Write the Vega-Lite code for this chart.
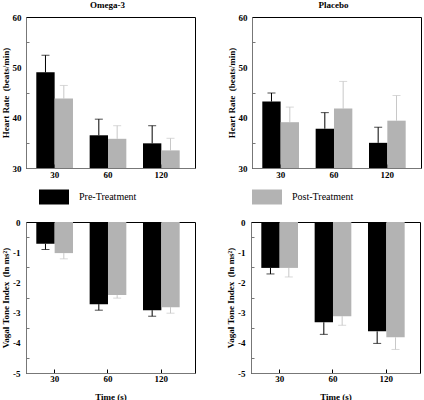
{
  "$schema": "https://vega.github.io/schema/vega-lite/v6.json",
  "padding": {"left": 0, "top": 0, "right": 0, "bottom": 0},
  "datasets": {
    "hr": [
      {"group": "Omega-3", "time": "30", "treatment": "Pre-Treatment", "value": 49.0, "err": 52.4},
      {"group": "Omega-3", "time": "30", "treatment": "Post-Treatment", "value": 43.8, "err": 46.4},
      {"group": "Omega-3", "time": "60", "treatment": "Pre-Treatment", "value": 36.5, "err": 39.7},
      {"group": "Omega-3", "time": "60", "treatment": "Post-Treatment", "value": 35.8, "err": 38.4},
      {"group": "Omega-3", "time": "120", "treatment": "Pre-Treatment", "value": 34.9, "err": 38.4},
      {"group": "Omega-3", "time": "120", "treatment": "Post-Treatment", "value": 33.5, "err": 35.9},
      {"group": "Placebo", "time": "30", "treatment": "Pre-Treatment", "value": 43.2, "err": 44.9},
      {"group": "Placebo", "time": "30", "treatment": "Post-Treatment", "value": 39.1, "err": 42.1},
      {"group": "Placebo", "time": "60", "treatment": "Pre-Treatment", "value": 37.8, "err": 41.0},
      {"group": "Placebo", "time": "60", "treatment": "Post-Treatment", "value": 41.8, "err": 47.2},
      {"group": "Placebo", "time": "120", "treatment": "Pre-Treatment", "value": 35.0, "err": 38.1},
      {"group": "Placebo", "time": "120", "treatment": "Post-Treatment", "value": 39.4, "err": 44.4}
    ],
    "vti": [
      {"group": "Omega-3", "time": "30", "treatment": "Pre-Treatment", "value": -0.72, "err": -0.91},
      {"group": "Omega-3", "time": "30", "treatment": "Post-Treatment", "value": -1.03, "err": -1.22},
      {"group": "Omega-3", "time": "60", "treatment": "Pre-Treatment", "value": -2.72, "err": -2.92},
      {"group": "Omega-3", "time": "60", "treatment": "Post-Treatment", "value": -2.42, "err": -2.52},
      {"group": "Omega-3", "time": "120", "treatment": "Pre-Treatment", "value": -2.92, "err": -3.12},
      {"group": "Omega-3", "time": "120", "treatment": "Post-Treatment", "value": -2.82, "err": -3.02},
      {"group": "Placebo", "time": "30", "treatment": "Pre-Treatment", "value": -1.52, "err": -1.72},
      {"group": "Placebo", "time": "30", "treatment": "Post-Treatment", "value": -1.52, "err": -1.82},
      {"group": "Placebo", "time": "60", "treatment": "Pre-Treatment", "value": -3.32, "err": -3.72},
      {"group": "Placebo", "time": "60", "treatment": "Post-Treatment", "value": -3.12, "err": -3.42},
      {"group": "Placebo", "time": "120", "treatment": "Pre-Treatment", "value": -3.62, "err": -4.02},
      {"group": "Placebo", "time": "120", "treatment": "Post-Treatment", "value": -3.82, "err": -4.22}
    ]
  },
  "vconcat": [
    {
      "hconcat": [
        {
          "width": 169, "height": 151,
          "title": {"text": "Omega-3", "offset": 3, "dx": -3},
          "data": {"name": "hr"},
          "transform": [{"filter": "datum.group === 'Omega-3'"}],
          "encoding": {
            "x": {"field": "time", "type": "nominal", "sort": ["30", "60", "120"],
                  "scale": {"paddingInner": 0, "paddingOuter": 0.084, "align": 0.22},
                  "axis": {"title": null, "labelAngle": 0, "tickSize": -4, "tickColor": "black", "labelPadding": 6}},
            "xOffset": {"field": "treatment", "sort": ["Pre-Treatment", "Post-Treatment"],
                  "scale": {"paddingInner": 0, "paddingOuter": 0.4545}}
          },
          "layer": [
            {"mark": {"type": "rule", "strokeWidth": 1},
             "encoding": {
               "y": {"field": "value", "type": "quantitative", "scale": {"domain": [30, 60], "nice": false, "zero": false},
                     "axis": {"title": "Heart Rate \u00a0(beats/min)", "orient": "left", "values": [30, 40, 50, 60], "labelOverlap": false,
                              "ticks": false, "labelPadding": 5, "titlePadding": 2}},
               "y2": {"field": "err"},
               "stroke": {"field": "treatment", "type": "nominal", "scale": {"domain": ["Pre-Treatment", "Post-Treatment"], "range": ["#000000", "#c8c8c8"]}, "legend": null}
             }},
            {"mark": {"type": "tick", "size": 8, "thickness": 1},
             "encoding": {
               "y": {"field": "err", "type": "quantitative", "axis": null},
               "fill": {"field": "treatment", "type": "nominal", "scale": {"domain": ["Pre-Treatment", "Post-Treatment"], "range": ["#000000", "#c8c8c8"]}, "legend": null}
             }},
            {"mark": {"type": "bar"},
             "encoding": {
               "y": {"field": "value", "type": "quantitative",
                     "axis": {"orient": "left", "values": [35, 45, 55], "labels": false, "domain": false, "title": null, "tickSize": -3}},
               "y2": {"datum": 30},
               "color": {"field": "treatment", "type": "nominal",
                         "scale": {"domain": ["Pre-Treatment", "Post-Treatment"], "range": ["#000000", "#b3b3b3"]},
                         "legend": {"values": ["Pre-Treatment"], "orient": "none", "legendX": 13, "legendY": 165, "title": null}}
             }}
          ],
          "resolve": {"axis": {"y": "independent"}}
        },
        {
          "width": 169, "height": 151,
          "title": {"text": "Placebo", "offset": 3, "dx": -3},
          "data": {"name": "hr"},
          "transform": [{"filter": "datum.group === 'Placebo'"}],
          "encoding": {
            "x": {"field": "time", "type": "nominal", "sort": ["30", "60", "120"],
                  "scale": {"paddingInner": 0, "paddingOuter": 0.084, "align": 0.22},
                  "axis": {"title": null, "labelAngle": 0, "tickSize": -4, "tickColor": "black", "labelPadding": 6}},
            "xOffset": {"field": "treatment", "sort": ["Pre-Treatment", "Post-Treatment"],
                  "scale": {"paddingInner": 0, "paddingOuter": 0.4545}}
          },
          "layer": [
            {"mark": {"type": "rule", "strokeWidth": 1},
             "encoding": {
               "y": {"field": "value", "type": "quantitative", "scale": {"domain": [30, 60], "nice": false, "zero": false},
                     "axis": {"title": "Heart Rate \u00a0(beats/min)", "orient": "left", "values": [30, 40, 50, 60], "labelOverlap": false,
                              "ticks": false, "labelPadding": 5, "titlePadding": 2}},
               "y2": {"field": "err"},
               "stroke": {"field": "treatment", "type": "nominal", "scale": {"domain": ["Pre-Treatment", "Post-Treatment"], "range": ["#000000", "#c8c8c8"]}, "legend": null}
             }},
            {"mark": {"type": "tick", "size": 8, "thickness": 1},
             "encoding": {
               "y": {"field": "err", "type": "quantitative", "axis": null},
               "fill": {"field": "treatment", "type": "nominal", "scale": {"domain": ["Pre-Treatment", "Post-Treatment"], "range": ["#000000", "#c8c8c8"]}, "legend": null}
             }},
            {"mark": {"type": "bar"},
             "encoding": {
               "y": {"field": "value", "type": "quantitative",
                     "axis": {"orient": "left", "values": [35, 45, 55], "labels": false, "domain": false, "title": null, "tickSize": -3}},
               "y2": {"datum": 30},
               "color": {"field": "treatment", "type": "nominal",
                         "scale": {"domain": ["Pre-Treatment", "Post-Treatment"], "range": ["#000000", "#b3b3b3"]},
                         "legend": {"values": ["Post-Treatment"], "orient": "none", "legendX": 0, "legendY": 165, "title": null}}
             }}
          ],
          "resolve": {"axis": {"y": "independent"}}
        }
      ],
      "spacing": 30,
      "resolve": {"legend": {"color": "independent"}}
    },
    {
      "hconcat": [
        {
          "width": 169, "height": 151,
          "data": {"name": "vti"},
          "transform": [{"filter": "datum.group === 'Omega-3'"}],
          "encoding": {
            "x": {"field": "time", "type": "nominal", "sort": ["30", "60", "120"],
                  "scale": {"paddingInner": 0, "paddingOuter": 0.084, "align": 0.22},
                  "axis": {"title": "Time (s)", "labelAngle": 0, "tickSize": -4, "tickColor": "black", "labelPadding": 5, "titlePadding": 9}},
            "xOffset": {"field": "treatment", "sort": ["Pre-Treatment", "Post-Treatment"],
                  "scale": {"paddingInner": 0, "paddingOuter": 0.4545}}
          },
          "layer": [
            {"mark": {"type": "rule", "strokeWidth": 1},
             "encoding": {
               "y": {"field": "value", "type": "quantitative", "scale": {"domain": [-5, 0], "nice": false},
                     "axis": {"title": "Vagal Tone Index \u00a0(ln ms\u00b2)", "orient": "left", "values": [-5, -4, -3, -2, -1, 0],
                              "labelExpr": "datum.value == 0 ? '0' : '-' + abs(datum.value)", "labelOverlap": false,
                              "ticks": false, "labelPadding": 6, "titlePadding": 2}},
               "y2": {"field": "err"},
               "stroke": {"field": "treatment", "type": "nominal", "scale": {"domain": ["Pre-Treatment", "Post-Treatment"], "range": ["#000000", "#c8c8c8"]}, "legend": null}
             }},
            {"mark": {"type": "tick", "size": 8, "thickness": 1},
             "encoding": {
               "y": {"field": "err", "type": "quantitative", "axis": null},
               "fill": {"field": "treatment", "type": "nominal", "scale": {"domain": ["Pre-Treatment", "Post-Treatment"], "range": ["#000000", "#c8c8c8"]}, "legend": null}
             }},
            {"mark": {"type": "bar"},
             "encoding": {
               "y": {"field": "value", "type": "quantitative",
                     "axis": {"orient": "left", "values": [-4.5, -3.5, -2.5, -1.5, -0.5], "labels": false, "domain": false, "title": null, "tickSize": -3}},
               "color": {"field": "treatment", "type": "nominal",
                         "scale": {"domain": ["Pre-Treatment", "Post-Treatment"], "range": ["#000000", "#b3b3b3"]},
                         "legend": null}
             }}
          ],
          "resolve": {"axis": {"y": "independent"}}
        },
        {
          "width": 169, "height": 151,
          "data": {"name": "vti"},
          "transform": [{"filter": "datum.group === 'Placebo'"}],
          "encoding": {
            "x": {"field": "time", "type": "nominal", "sort": ["30", "60", "120"],
                  "scale": {"paddingInner": 0, "paddingOuter": 0.084, "align": 0.22},
                  "axis": {"title": "Time (s)", "labelAngle": 0, "tickSize": -4, "tickColor": "black", "labelPadding": 5, "titlePadding": 9}},
            "xOffset": {"field": "treatment", "sort": ["Pre-Treatment", "Post-Treatment"],
                  "scale": {"paddingInner": 0, "paddingOuter": 0.4545}}
          },
          "layer": [
            {"mark": {"type": "rule", "strokeWidth": 1},
             "encoding": {
               "y": {"field": "value", "type": "quantitative", "scale": {"domain": [-5, 0], "nice": false},
                     "axis": {"title": "Vagal Tone Index \u00a0(ln ms\u00b2)", "orient": "left", "values": [-5, -4, -3, -2, -1, 0],
                              "labelExpr": "datum.value == 0 ? '0' : '-' + abs(datum.value)", "labelOverlap": false,
                              "ticks": false, "labelPadding": 6, "titlePadding": 2}},
               "y2": {"field": "err"},
               "stroke": {"field": "treatment", "type": "nominal", "scale": {"domain": ["Pre-Treatment", "Post-Treatment"], "range": ["#000000", "#c8c8c8"]}, "legend": null}
             }},
            {"mark": {"type": "tick", "size": 8, "thickness": 1},
             "encoding": {
               "y": {"field": "err", "type": "quantitative", "axis": null},
               "fill": {"field": "treatment", "type": "nominal", "scale": {"domain": ["Pre-Treatment", "Post-Treatment"], "range": ["#000000", "#c8c8c8"]}, "legend": null}
             }},
            {"mark": {"type": "bar"},
             "encoding": {
               "y": {"field": "value", "type": "quantitative",
                     "axis": {"orient": "left", "values": [-4.5, -3.5, -2.5, -1.5, -0.5], "labels": false, "domain": false, "title": null, "tickSize": -3}},
               "color": {"field": "treatment", "type": "nominal",
                         "scale": {"domain": ["Pre-Treatment", "Post-Treatment"], "range": ["#000000", "#b3b3b3"]},
                         "legend": null}
             }}
          ],
          "resolve": {"axis": {"y": "independent"}}
        }
      ],
      "spacing": 30
    }
  ],
  "spacing": 11,
  "resolve": {"legend": {"color": "independent"}},
  "config": {
    "font": "Liberation Serif",
    "view": {"stroke": "black", "strokeWidth": 1},
    "axis": {"labelFont": "Liberation Serif", "labelFontWeight": "bold", "labelFontSize": 9, "labelColor": "black",
             "titleFont": "Liberation Serif", "titleFontWeight": "bold", "titleFontSize": 9, "titleColor": "black",
             "grid": false, "domainColor": "#777777", "tickColor": "#777777", "labelOverlap": false},
    "title": {"font": "Liberation Serif", "fontSize": 9, "fontWeight": "bold", "color": "black"},
    "legend": {"labelFont": "Liberation Serif", "labelFontSize": 10, "labelColor": "black", "labelOffset": 10,
               "symbolType": "M-1,-0.5H1V0.5H-1Z", "symbolSize": 900, "symbolStrokeWidth": 0, "symbolOpacity": 1, "padding": 0}
  }
}
